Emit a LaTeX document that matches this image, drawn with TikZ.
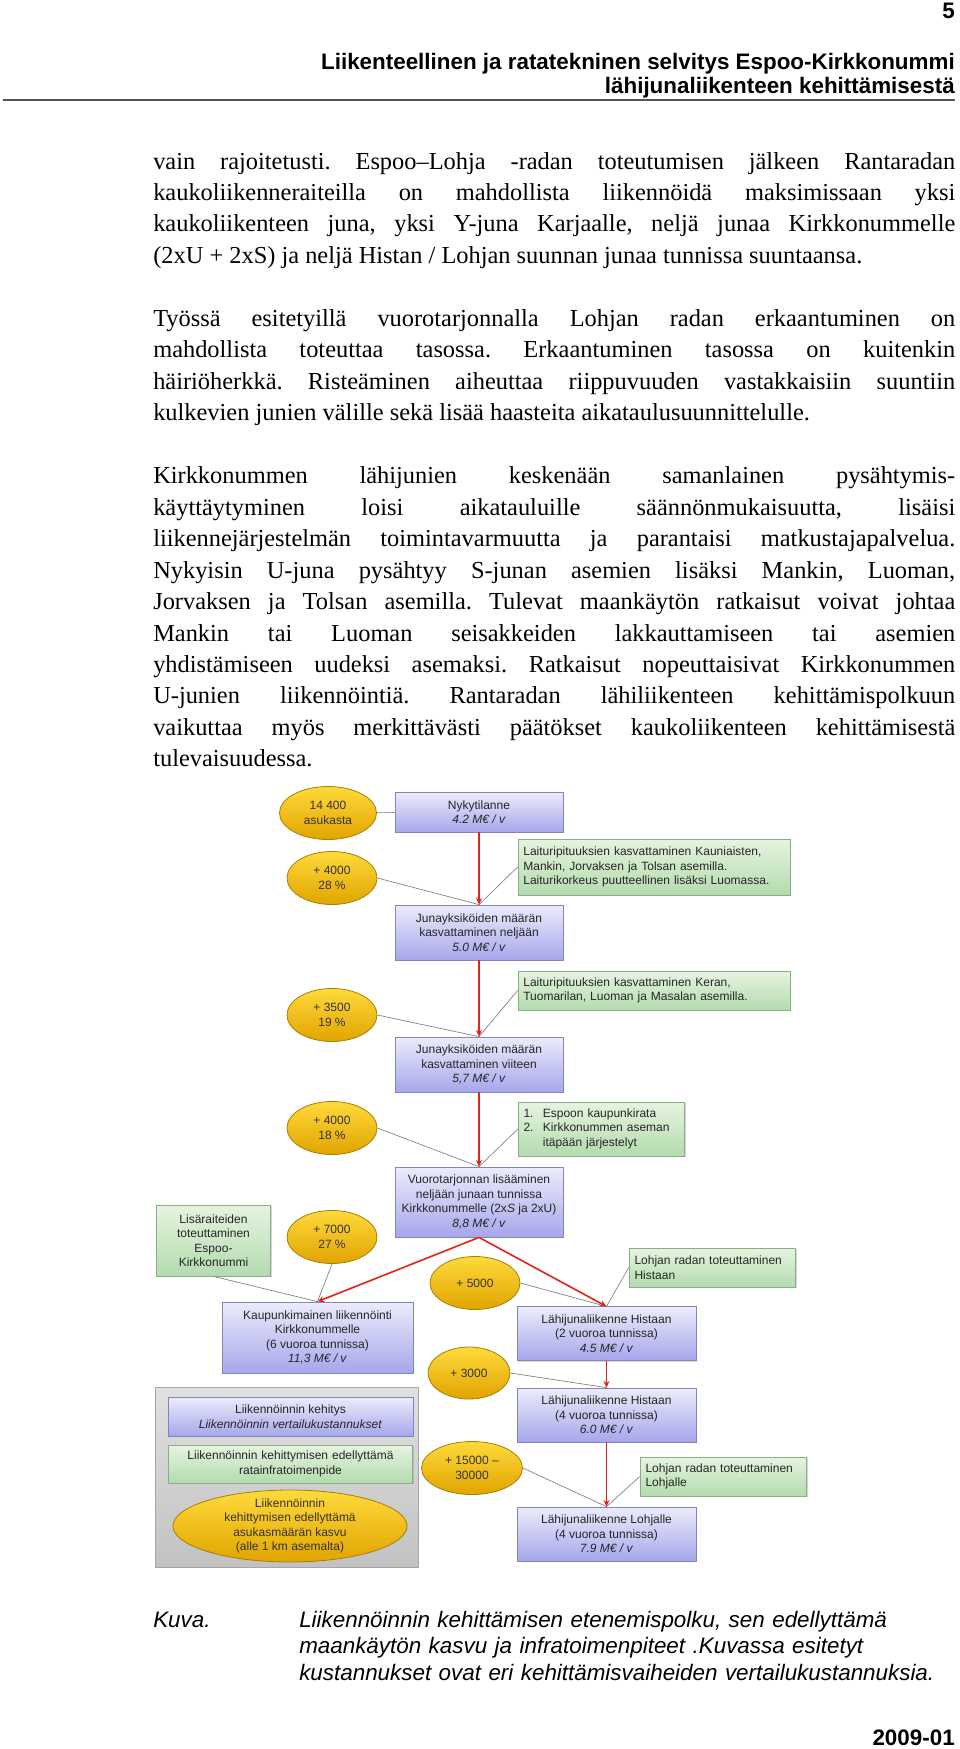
\documentclass[tikz,border=0pt]{standalone}
\usepackage{fontspec}
\setmainfont{Liberation Serif}
\setsansfont{Liberation Sans}
\usetikzlibrary{arrows.meta,positioning,shapes.geometric,shadows}
\definecolor{bluetop}{HTML}{ECECFB}
\definecolor{bluebot}{HTML}{A6A6EC}
\definecolor{blueline}{HTML}{8585B5}
\definecolor{greentop}{HTML}{E6F4E0}
\definecolor{greenbot}{HTML}{B3DBAE}
\definecolor{greenline}{HTML}{8DAA8A}
\definecolor{goldtop}{HTML}{FFDA3C}
\definecolor{goldbot}{HTML}{E0A400}
\definecolor{goldline}{HTML}{A88000}
\definecolor{arrowred}{HTML}{E2231A}
\definecolor{feedgray}{HTML}{808080}
\definecolor{rulegray}{HTML}{555555}
\newcommand\bodyfont{\rmfamily\fontsize{18.3pt}{23.6pt}\selectfont}
\newcommand\headfont{\sffamily\bfseries\fontsize{16.8pt}{20pt}\selectfont}
\newcommand\capfont{\sffamily\itshape\fontsize{16.8pt}{20pt}\selectfont}
\newcommand\diagfont{\sffamily\fontsize{9pt}{10.9pt}\selectfont}
\frenchspacing

\begin{document}
\begin{tikzpicture}[x=0.75pt,y=-0.75pt,
    pathbox/.style={draw=blueline, line width=0.6pt, top color=bluetop, bottom color=bluebot,
      align=center, inner sep=1pt, font=\diagfont, text=black!85,
      drop shadow={shadow xshift=1pt, shadow yshift=-1pt, opacity=0.3}},
    infobox/.style={draw=greenline, line width=0.6pt, top color=greentop, bottom color=greenbot,
      align=left, inner xsep=4pt, inner ysep=1pt, font=\diagfont, text=black!85,
      drop shadow={shadow xshift=1pt, shadow yshift=-1pt, opacity=0.3}},
    growth/.style={ellipse, draw=goldline, line width=0.6pt, top color=goldtop, bottom color=goldbot,
      align=center, inner sep=0pt, font=\diagfont, text=black!80,
      minimum width=67.5pt, minimum height=39.75pt},
    redarrow/.style={draw=arrowred, line width=1.2pt, -{Stealth[length=5pt,width=4.5pt]}},
    feedline/.style={draw=feedgray, line width=0.5pt}]

  \fill[white] (0,0) rectangle (960,1749);

  % page head
  \node[anchor=base east, inner sep=0pt, font=\headfont] (pagenum) at (955,18) {5};
  \node[anchor=base east, inner sep=0pt, font=\headfont] (headone) at (955,69)
    {Liikenteellinen ja ratatekninen selvitys Espoo-Kirkkonummi};
  \node[anchor=base east, inner sep=0pt, font=\headfont] (headtwo) at (955,93)
    {lähijunaliikenteen kehittämisestä};
  \draw[rulegray, line width=1.5pt] (3,100) -- (955,100);

  % body text
  \node[anchor=base west, inner sep=0pt, text width=601.5pt, align=justify, font=\bodyfont] (body) at (153,169)
    {\setlength{\parskip}{23.6pt}\setlength{\parindent}{0pt}%
    vain rajoitetusti. Espoo–Lohja -radan toteutumisen jälkeen Rantaradan\linebreak
    kaukoliikenneraiteilla on mahdollista liikennöidä maksimissaan yksi\linebreak
    kaukoliikenteen juna, yksi Y-juna Karjaalle, neljä junaa Kirkkonummelle\linebreak
    (2xU + 2xS) ja neljä Histan / Lohjan suunnan junaa tunnissa suuntaansa.\par
    Työssä esitetyillä vuorotarjonnalla Lohjan radan erkaantuminen on\linebreak
    mahdollista toteuttaa tasossa. Erkaantuminen tasossa on kuitenkin\linebreak
    häiriöherkkä. Risteäminen aiheuttaa riippuvuuden vastakkaisiin suuntiin\linebreak
    kulkevien junien välille sekä lisää haasteita aikataulusuunnittelulle.\par
    Kirkkonummen lähijunien keskenään samanlainen pysähtymis-\linebreak
    käyttäytyminen loisi aikatauluille säännönmukaisuutta, lisäisi\linebreak
    liikennejärjestelmän toimintavarmuutta ja parantaisi matkustajapalvelua.\linebreak
    Nykyisin U-juna pysähtyy S-junan asemien lisäksi Mankin, Luoman,\linebreak
    Jorvaksen ja Tolsan asemilla. Tulevat maankäytön ratkaisut voivat johtaa\linebreak
    Mankin tai Luoman seisakkeiden lakkauttamiseen tai asemien\linebreak
    yhdistämiseen uudeksi asemaksi. Ratkaisut nopeuttaisivat Kirkkonummen\linebreak
    U-junien liikennöintiä. Rantaradan lähiliikenteen kehittämispolkuun\linebreak
    vaikuttaa myös merkittävästi päätökset kaukoliikenteen kehittämisestä\linebreak
    tulevaisuudessa.\par};

  % main path
  \node[pathbox, minimum width=126pt, minimum height=30pt] (now) at (479,812)
    {Nykytilanne\\\textit{4.2 M€ / v}};
  \node[pathbox, minimum width=126pt, minimum height=41.25pt] (units4) at (479,932.5)
    {Junayksiköiden määrän\\kasvattaminen neljään\\\textit{5.0 M€ / v}};
  \node[pathbox, minimum width=126pt, minimum height=41.25pt] (units5) at (479,1064.5)
    {Junayksiköiden määrän\\kasvattaminen viiteen\\\textit{5,7 M€ / v}};
  \node[pathbox, minimum width=126pt, minimum height=52.5pt] (fourtr) at (479,1202)
    {Vuorotarjonnan lisääminen\\neljään junaan tunnissa\\Kirkkonummelle (2x\textit{S} ja 2xU)\\\textit{8,8 M€ / v}};
  \node[pathbox, minimum width=143.25pt, minimum height=53.25pt] (citytr) at (317.5,1337.5)
    {Kaupunkimainen liikennöinti\\Kirkkonummelle\\(6 vuoroa tunnissa)\\\textit{11,3 M€ / v}};
  \node[pathbox, minimum width=134.25pt, minimum height=40pt] (hista2) at (606.5,1333.5)
    {Lähijunaliikenne Histaan\\(2 vuoroa tunnissa)\\\textit{4.5 M€ / v}};
  \node[pathbox, minimum width=134.25pt, minimum height=40.5pt] (hista4) at (606.5,1415)
    {Lähijunaliikenne Histaan\\(4 vuoroa tunnissa)\\\textit{6.0 M€ / v}};
  \node[pathbox, minimum width=134.25pt, minimum height=40.5pt] (lohja4) at (606.5,1534)
    {Lähijunaliikenne Lohjalle\\(4 vuoroa tunnissa)\\\textit{7.9 M€ / v}};

  % track works
  \node[infobox, text width=196pt, minimum height=42pt] (platf1) at (654,867)
    {Laituripituuksien kasvattaminen Kauniaisten,\\Mankin, Jorvaksen ja Tolsan asemilla.\\Laiturikorkeus puutteellinen lisäksi Luomassa.};
  \node[infobox, text width=196pt, minimum height=29.25pt] (platf2) at (654,990.5)
    {Laituripituuksien kasvattaminen Keran,\\Tuomarilan, Luoman ja Masalan asemilla.};
  \node[infobox, text width=117pt, minimum height=40.5pt] (cityrail) at (601.5,1129)
    {\begin{tabular}{@{}l@{\hspace{7pt}}l@{}}1.&Espoon kaupunkirata\\2.&Kirkkonummen aseman\\&itäpään järjestelyt\end{tabular}};
  \node[infobox, text width=117pt, minimum height=29.25pt] (lohjahis) at (712.5,1267.5)
    {Lohjan radan toteuttaminen\\Histaan};
  \node[infobox, text width=117pt, minimum height=29.25pt] (lohjaloh) at (723.5,1476.5)
    {Lohjan radan toteuttaminen\\Lohjalle};
  \node[infobox, align=center, text width=78pt, minimum height=53.25pt] (extratr) at (213.5,1240.5)
    {Lisäraiteiden\\toteuttaminen\\Espoo-\\Kirkkonummi};

  % population growth
  \node[growth, minimum width=72.75pt] (pop0) at (328,813) {14 400\\asukasta};
  \node[growth] (pop1) at (332,878) {+ 4000\\28 \%};
  \node[growth] (pop2) at (332,1015) {+ 3500\\19 \%};
  \node[growth] (pop3) at (332,1128) {+ 4000\\18 \%};
  \node[growth] (pop4) at (332,1237) {+ 7000\\27 \%};
  \node[growth] (pop5) at (475,1283) {+ 5000};
  \node[growth, minimum width=61.5pt, minimum height=39pt] (pop6) at (469,1373) {+ 3000};
  \node[growth, minimum width=75.75pt] (pop7) at (472,1468) {+ 15000 –\\30000};

  % legend
  \node[draw=black!35, line width=0.6pt, top color=black!12, bottom color=black!24,
    minimum width=197.25pt, minimum height=135pt, drop shadow={shadow xshift=1pt, shadow yshift=-1pt, opacity=0.3}] (legend) at (286.5,1477) {};
  \node[pathbox, minimum width=183.75pt, minimum height=29.25pt] (legpath) at (290.5,1416.5)
    {Liikennöinnin kehitys\\\textit{Liikennöinnin vertailukustannukset}};
  \node[infobox, align=center, text width=175pt, minimum height=28.5pt] (leginfo) at (290.5,1464)
    {Liikennöinnin kehittymisen edellyttämä\\ratainfratoimenpide};
  \node[growth, minimum width=175.5pt, minimum height=54pt] (leggrow) at (290,1526) {};
  \node[font=\diagfont, align=center, text=black!80] (leggrowtx) at (leggrow) 
    {Liikennöinnin\\kehittymisen edellyttämä\\asukasmäärän kasvu\\(alle 1 km asemalta)};

  % thin feed lines
  \draw[feedline] (pop0) -- (now);
  \draw[feedline] (pop1.east) -- (units4.north);
  \draw[feedline] (platf1.west) -- (units4.north);
  \draw[feedline] (pop2.east) -- (units5.north);
  \draw[feedline] (platf2.west) -- (units5.north);
  \draw[feedline] (pop3.east) -- (fourtr.north);
  \draw[feedline] (cityrail.west) -- (fourtr.north);
  \draw[feedline] (extratr.south) -- (citytr.north);
  \draw[feedline] (pop4.south) -- (citytr.north);
  \draw[feedline] (pop5.east) -- (hista2.north);
  \draw[feedline] (lohjahis.west) -- (hista2.north);
  \draw[feedline] (pop6.east) -- (hista4.north);
  \draw[feedline] (pop7.east) -- (lohja4.north);
  \draw[feedline] (lohjaloh.west) -- (lohja4.north);

  % path arrows
  \draw[redarrow] (now) -- (units4);
  \draw[redarrow] (units4) -- (units5);
  \draw[redarrow] (units5) -- (fourtr);
  \draw[redarrow] (fourtr.south) -- (citytr.north);
  \draw[redarrow] (fourtr.south) -- (hista2.north);
  \draw[redarrow] (hista2) -- (hista4);
  \draw[redarrow] (hista4) -- (lohja4);

  % caption
  \node[anchor=base west, inner sep=0pt, font=\capfont] (kuva) at (153,1627) {Kuva.};
  \node[anchor=base west, inner sep=0pt, font=\capfont, text width=480pt, align=left] (caption) at (299,1627)
    {Liikennöinnin kehittämisen etenemispolku, sen edellyttämä\\
     maankäytön kasvu ja infratoimenpiteet .Kuvassa esitetyt\\
     kustannukset ovat eri kehittämisvaiheiden vertailukustannuksia.};
  \node[anchor=base east, inner sep=0pt, font=\headfont] (issue) at (955,1745) {2009-01};
\end{tikzpicture}
\end{document}
